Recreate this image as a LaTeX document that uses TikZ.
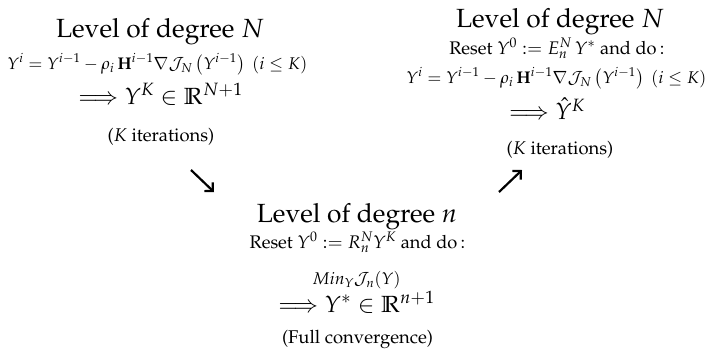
\documentclass[tikz,border=0pt]{standalone}
\usepackage[T1]{fontenc}
\usepackage{mathpazo}
\usetikzlibrary{arrows.meta}
\tikzset{
  ttl/.style={anchor=base, inner sep=0pt, font=\fontsize{26.4}{30}\selectfont},
  eqn/.style={anchor=base, inner sep=0pt, font=\fontsize{17}{20}\selectfont},
  rst/.style={anchor=base, inner sep=0pt, font=\fontsize{18.3}{22}\selectfont},
  imp/.style={anchor=base, inner sep=0pt, font=\fontsize{23.5}{28}\selectfont},
  prn/.style={anchor=base, inner sep=0pt, font=\fontsize{18.5}{22}\selectfont},
  arr/.style={line width=2.2bp, -{Straight Barb[length=6bp,width=12bp]}}
}
\begin{document}
\begin{tikzpicture}[x=1bp,y=-1bp]
\useasboundingbox (0,0) rectangle (711,356);
% left block
\node[ttl] (lt) at (160,37) {Level of degree $N$};
\node[eqn] (le) at (157.5,69) {$Y^i = Y^{i-1} - \rho_i\,\mathbf{H}^{i-1}\nabla\mathcal{J}_N\left(Y^{i-1}\right)\ (i\le K)$};
\node[imp] (li) at (160.5,104) {$\Longrightarrow Y^K\in\mathbb{R}^{N+1}$};
\node[prn] (lk) at (161,141) {($K$ iterations)};
% right block
\node[ttl] (rt) at (560,27) {Level of degree $N$};
\node[rst] (rr) at (557,54) {Reset $Y^0 := E_n^N\,Y^*$ and do$\,:$};
\node[eqn] (re) at (556.5,83) {$Y^i = Y^{i-1} - \rho_i\,\mathbf{H}^{i-1}\nabla\mathcal{J}_N\left(Y^{i-1}\right)\ (i\le K)$};
\node[imp] (ri) at (547,119.5) {$\Longrightarrow \hat{Y}^K$};
\node[prn] (rk) at (560,154) {($K$ iterations)};
% bottom block
\node[ttl] (bt) at (357,222) {Level of degree $n$};
\node[rst] (br) at (357.5,248) {Reset $Y^0 := R_n^N Y^K$\ and do$\,:$};
\node[eqn] (bm) at (356.5,284.5) {$Min_Y\mathcal{J}_n(Y)$};
\node[imp] (bi) at (356.5,312) {$\Longrightarrow Y^*\in\mathbb{R}^{n+1}$};
\node[prn] (bk) at (357.5,343.5) {(Full convergence)};
% arrows
\coordinate (d1) at (191,170);
\coordinate (d2) at (214,192);
\coordinate (u1) at (499,192);
\coordinate (u2) at (522,170);
\draw[arr] (d1) -- (d2);
\draw[arr] (u1) -- (u2);
\end{tikzpicture}
\end{document}
